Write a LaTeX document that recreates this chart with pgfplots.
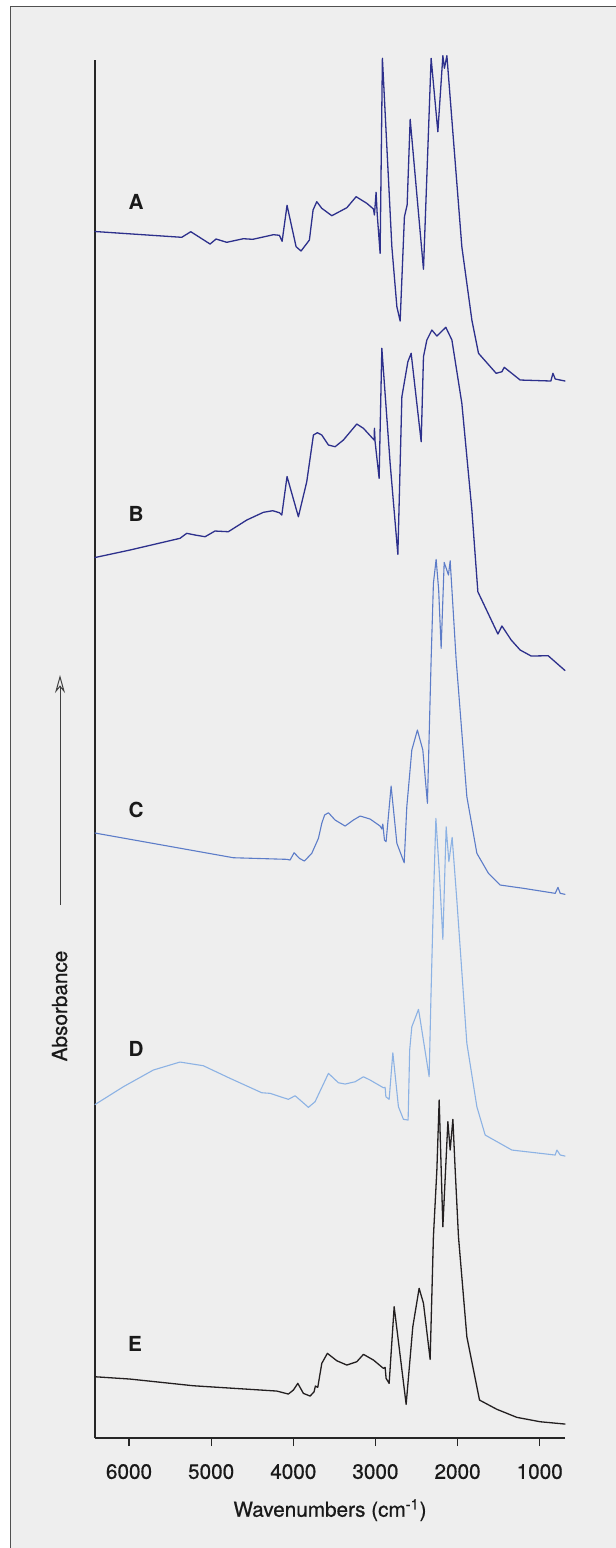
\documentclass[border=0pt]{standalone}
\usepackage{fontspec}
\setmainfont{TeX Gyre Heros}
\newfontfamily\medfont[FakeBold=0.7]{TeX Gyre Heros}
\usepackage{pgfplots}
\pgfplotsset{compat=1.18}
\usetikzlibrary{arrows.meta}
\definecolor{navy}{RGB}{45,48,140}
\definecolor{midblue}{RGB}{92,124,200}
\definecolor{lightblue}{RGB}{140,178,228}
\definecolor{nearblack}{RGB}{35,31,32}
\definecolor{bgc}{RGB}{238,238,238}
\definecolor{framec}{RGB}{80,80,80}
\newcommand{\lbl}{\medfont\fontsize{10.4}{12}\selectfont}
\newcommand{\lblb}{\fontsize{10.4}{12}\selectfont\bfseries}
\begin{document}
\begin{tikzpicture}
\begin{scope}[x=0.5bp,y=-0.5bp]
\fill[white] (0,0) rectangle (616,1548);
\path[use as bounding box] (0,0) rectangle (616,1548);
\fill[bgc] (10.5,6.5) rectangle (616,1548);
\draw[framec, line width=0.8bp] (10.5,1548) -- (10.5,6.5) -- (616,6.5);
\end{scope}
\begin{axis}[
  at={(47.5bp,-719bp)}, anchor=south west,
  scale only axis, width=235bp, height=689bp,
  xmin=692, xmax=6414, x dir=reverse,
  ymin=0, ymax=1378,
  axis x line*=bottom, axis y line*=left,
  ytick=\empty,
  xtick={1000,2000,3000,4000,5000,6000},
  tick align=outside, major tick length=4bp,
  axis line style={line width=0.6bp, color=black!85},
  x tick style={line width=0.6bp, color=black!85},
  xticklabel style={font=\lbl, text=black!90, yshift=-5.5bp},
  /pgf/number format/1000 sep={},
  /pgf/number format/assume math mode=true,
  clip=false,
  every axis plot/.append style={line join=round, line cap=round},
]
% A
\addplot[navy, line width=0.65bp] coordinates {
(6414,1206.5)(5358,1200.7)(5248,1206.3)(5013,1194)(4940,1199)(4810,1195.7)
(4608,1199.3)(4493,1198.7)(4242,1203.3)(4169,1202.7)(4136,1196.7)(4076,1232.7)
(3966,1191.3)(3905,1187)(3804,1198)(3759,1228)(3714,1236.3)(3653,1229.7)
(3531,1222.3)(3348,1230.3)(3235,1241.3)(3105,1234.7)(3024,1229)(3012,1223)
(2992,1245.7)(2979,1224.7)(2943,1184.7)(2915,1379.7)(2800,1191.3)(2739,1131.3)
(2699,1117)(2647,1221.3)(2614,1233)(2577,1318.7)(2415,1168.7)(2322,1379.7)
(2240,1306.3)(2179,1382.3)(2160,1369.7)(2130,1382.3)(2050,1298)(1948,1191.3)
(1826,1118)(1745,1084.7)(1530,1064.7)(1460,1066.3)(1432,1070.7)(1238,1058)
(864,1057)(839,1064.7)(811,1059)(692,1057)
};
% B
\addplot[navy, line width=0.65bp] coordinates {
(6414,880.5)(5988,888)(5379,899.7)(5297,904.7)(5196,903)(5074,901.3)
(4953,907)(4791,906.3)(4566,918)(4364,925.7)(4250,927.3)(4169,925.3)
(4140,923)(4076,961.5)(3938,921.3)(3836,956.3)(3755,1003)(3707,1005.3)
(3653,1003)(3572,993)(3491,991.3)(3390,998)(3227,1014)(3146,1009.7)
(3016,998)(3012,1009.7)(3004,996.3)(2955,959.7)(2922,1089.7)(2821,974.7)
(2727,883.7)(2678,1041.3)(2605,1076.3)(2565,1084.7)(2443,996.3)(2415,1081.3)
(2374,1098)(2313,1108)(2252,1102)(2143,1110.7)(2069,1098)(1948,1034.7)
(1826,928)(1753,846.3)(1509,804)(1460,812)(1347,798)(1238,788)
(1104,782)(897,782.3)(692,767.5)
};
% C
\addplot[midblue, line width=0.55bp] coordinates {
(6414,605)(4730,580.3)(4079,578.7)(4039,578)(3990,585.3)(3926,579.7)
(3865,577)(3775,584.7)(3694,599.7)(3653,614.7)(3619,623)(3572,625.3)
(3491,618)(3369,612)(3268,618)(3186,622)(3065,619)(2943,612)
(2922,609)(2910,614)(2890,598)(2870,596.3)(2809,652)(2739,594.7)
(2650,575.3)(2618,631.3)(2557,688)(2489,708)(2423,688)(2367,634.7)
(2342,714.7)(2322,778)(2294,854.7)(2261,878.7)(2230,848)(2200,789.7)
(2163,875.7)(2111,863)(2090,877.3)(2017,778)(1887,641.3)(1765,584.7)
(1624,564.7)(1481,553)(1197,549.7)(811,544.7)(778,550.7)(750,544.7)(692,543.7)
};
% D
\addplot[lightblue, line width=0.55bp] coordinates {
(6414,333.5)(6069,351.3)(5704,368)(5379,376)(5095,372.3)(4770,359.7)
(4384,345.3)(4283,344.7)(4060,338.7)(3978,342.3)(3917,338)(3816,330.7)
(3735,336.3)(3572,364.7)(3451,355.3)(3369,354)(3247,356.3)(3146,361.3)
(3065,358)(2903,350.3)(2882,350.7)(2873,341.3)(2833,338.7)(2788,385.3)
(2720,331.3)(2659,318.7)(2602,318)(2598,333)(2583,388)(2557,411.3)
(2517,419.7)(2476,428.7)(2464,423)(2346,361.3)(2325,438)(2294,538)
(2264,619.7)(2224,568)(2179,498.7)(2139,611.3)(2106,576.3)(2066,600.7)
(2009,538)(1887,394.7)(1765,331.3)(1664,303)(1339,288)(811,283)
(791,288)(750,283)(692,282)
};
% E
\addplot[nearblack, line width=0.65bp] coordinates {
(6414,61.3)(5988,59)(5217,52.3)(4201,47)(4060,44)(3999,48)
(3945,54.7)(3877,44.7)(3795,42)(3747,46.3)(3731,52)(3702,50.7)
(3653,74.7)(3585,84.7)(3470,77.3)(3348,73)(3227,76.3)(3146,83.7)
(3024,78)(2903,69.7)(2882,70.7)(2870,59.7)(2833,54.7)(2772,131.3)
(2626,33.7)(2545,111.3)(2468,149.7)(2415,134.7)(2334,78.7)(2294,201.3)
(2252,268)(2224,338)(2179,211.3)(2118,316.3)(2090,288)(2057,318.7)
(2029,268)(1989,201.3)(1887,101.3)(1733,38)(1521,28.7)(1278,20.7)
(994,16.3)(692,14)
};
\end{axis}
\begin{scope}[x=0.5bp,y=-0.5bp]
\node[font=\lblb, text=black!90] at (136,202) {A};
\node[font=\lblb, text=black!90] at (136,514) {B};
\node[font=\lblb, text=black!90] at (136,810) {C};
\node[font=\lblb, text=black!90] at (136,1049) {D};
\node[font=\lblb, text=black!90] at (135,1344) {E};
\node[font=\lbl, text=black!90, anchor=base] at (330,1516.7) {Wavenumbers (cm\textsuperscript{-1})};
\node[font=\lbl, text=black!90, anchor=base, rotate=90] at (67,1006) {Absorbance};
\draw[black!75, line width=0.5bp, -{Stealth[open, length=9bp, width=5bp, inset=3bp]}] (60,905) -- (60,675);
\end{scope}
\end{tikzpicture}
\end{document}
